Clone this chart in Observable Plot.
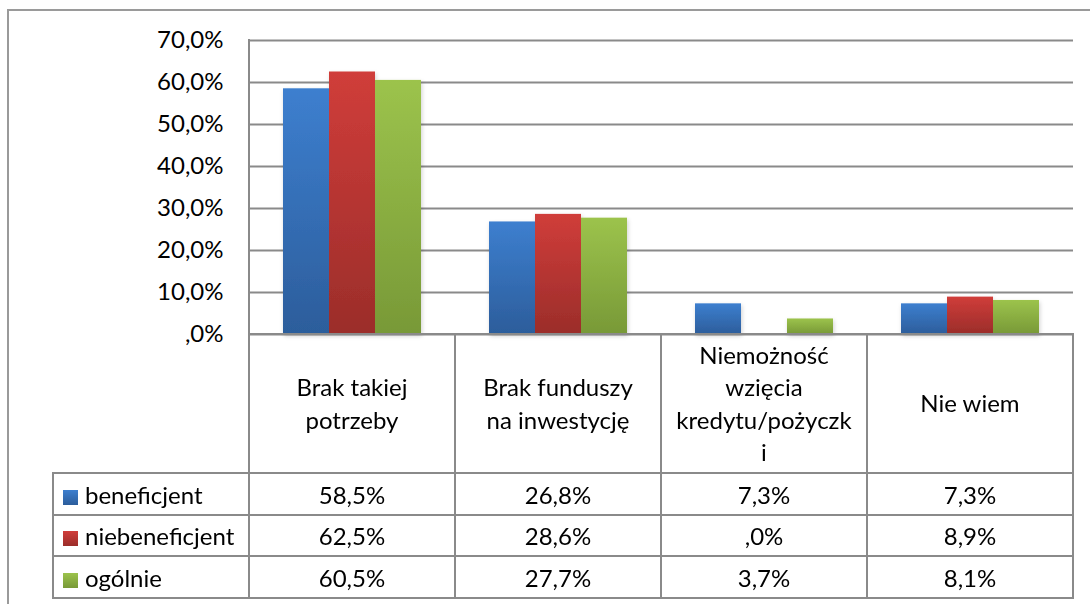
<!DOCTYPE html>
<html>
<head>
<meta charset="utf-8">
<script src="https://cdn.jsdelivr.net/npm/d3@7"></script>
<script src="https://cdn.jsdelivr.net/npm/@observablehq/plot@0.6"></script>
<style>
  html, body { margin: 0; padding: 0; background: #fff; }
  #wrap { position: relative; width: 1090px; height: 604px; overflow: hidden; font-family: Lato, "Open Sans", sans-serif; }
  #outer { position: absolute; left: 7px; top: 9px; width: 1100px; height: 700px; border-left: 2px solid #9a9a9a; border-top: 2px solid #9a9a9a; box-sizing: border-box; }
  #chart { position: absolute; left: 0; top: 0; }
  table.dt { position: absolute; border-collapse: collapse; table-layout: fixed; font-family: Lato, "Open Sans", sans-serif; font-size: 24px; color: #000; }
  table.dt td { border: 2px solid #8a8a8a; padding: 0; text-align: center; vertical-align: middle; }
  table.dt td.blank { border-top: none; border-left: none; }
  table.dt td.hdr { line-height: 32.5px; white-space: pre-line; }
  table.dt td.leg { text-align: left; padding-left: 9px; white-space: nowrap; }
  .key { display: inline-block; width: 15px; height: 15px; margin-right: 7px; vertical-align: -1px; }
</style>
</head>
<body>
<div id="wrap"><div id="outer"></div></div>
<script>
// ---- data ----
const categories = ["Brak takiej potrzeby", "Brak funduszy na inwestycję", "Niemożność wzięcia kredytu/pożyczki", "Nie wiem"];
const categoryLabels = ["Brak takiej\npotrzeby", "Brak funduszy\nna inwestycję", "Niemożność\nwzięcia\nkredytu/pożyczk\ni", "Nie wiem"];
const series = ["beneficjent", "niebeneficjent", "ogólnie"];
const beneficjent = [58.5, 26.8, 7.3, 7.3];
const niebeneficjent = [62.5, 28.6, 0.0, 8.9];
const ogolnie = [60.5, 27.7, 3.7, 8.1];
const yTicks = [0, 10, 20, 30, 40, 50, 60, 70];

// ---- styles ----
const gradients = [
  {id: "gBlue", top: "#3d7fcf", bottom: "#2c5d9b"},
  {id: "gRed", top: "#d03d3a", bottom: "#9b2d2a"},
  {id: "gGreen", top: "#9cc34c", bottom: "#789937"}
];
const keyColors = ["linear-gradient(#3d7fcf,#2c5d9b)", "linear-gradient(#d03d3a,#9b2d2a)", "linear-gradient(#9cc34c,#789937)"];

const fmt = v => (v === 0 ? ",0" : v.toFixed(1).replace(".", ",")) + "%";
const seriesValues = [beneficjent, niebeneficjent, ogolnie];
const data = categories.flatMap((c, i) => series.map((s, j) => ({category: c, series: s, value: seriesValues[j][i]})));

const plot = Plot.plot({
  width: 1090,
  height: 604,
  marginTop: 40,
  marginBottom: 270,
  marginLeft: 247,
  marginRight: 16,
  style: {fontFamily: "Lato, 'Open Sans', sans-serif", fontSize: "24px", color: "#000", background: "transparent"},
  fx: {domain: categories, padding: 0, axis: null},
  x: {domain: series, axis: null, paddingInner: 0, paddingOuter: 0.73},
  y: {domain: [0, 70], label: null},
  color: {domain: series, range: gradients.map(g => `url(#${g.id})`)},
  marks: [
    Plot.gridY(yTicks, {stroke: "#8a8a8a", strokeOpacity: 1, strokeWidth: 2}),
    Plot.barY(data, {fx: "category", x: "series", y: "value", fill: "series", inset: 0}),
    Plot.axisY(yTicks, {tickFormat: fmt, tickSize: 0, tickPadding: 26, fontSize: 24, label: null})
  ]
});
plot.id = "chart";
const defs = d3.select(plot).insert("defs", ":first-child");
gradients.forEach(g => {
  const lg = defs.append("linearGradient").attr("id", g.id).attr("x1", 0).attr("y1", 0).attr("x2", 0).attr("y2", 1);
  lg.append("stop").attr("offset", "0%").attr("stop-color", g.top);
  lg.append("stop").attr("offset", "100%").attr("stop-color", g.bottom);
});
const shadow = defs.append("filter").attr("id", "shadow").attr("x", "-10%").attr("y", "-10%").attr("width", "130%").attr("height", "130%");
shadow.append("feDropShadow").attr("dx", 1).attr("dy", 2).attr("stdDeviation", 2).attr("flood-color", "#000").attr("flood-opacity", 0.18);
d3.select(plot).selectAll("g[aria-label='bar']").attr("filter", "url(#shadow)");

const wrap = document.getElementById("wrap");
wrap.appendChild(plot);

// ---- data table, columns aligned with the fx scale ----
const fx = plot.scale("fx");
const yS = plot.scale("y");
const bw = fx.step;
const colX = categories.map(c => fx.apply(c));
const tableLeft = 53;
const plotLeft = colX[0];
const table = document.createElement("table");
table.className = "dt";
table.style.left = (tableLeft - 1) + "px";
table.style.top = (yS.apply(0) - 1) + "px";
table.style.width = (plotLeft - tableLeft + bw * categories.length + 2) + "px";
const cg = document.createElement("colgroup");
[plotLeft - tableLeft, ...categories.map(() => bw)].forEach(w => {
  const col = document.createElement("col");
  col.style.width = w + "px";
  cg.appendChild(col);
});
table.appendChild(cg);
const hr = document.createElement("tr");
hr.style.height = "139px";
const blank = document.createElement("td");
blank.className = "blank";
hr.appendChild(blank);
categoryLabels.forEach(l => {
  const td = document.createElement("td");
  td.className = "hdr";
  td.textContent = l;
  hr.appendChild(td);
});
table.appendChild(hr);
series.forEach((s, j) => {
  const tr = document.createElement("tr");
  tr.style.height = (j === 1 ? 41 : 42) + "px";
  const lt = document.createElement("td");
  lt.className = "leg";
  const key = document.createElement("span");
  key.className = "key";
  key.style.background = keyColors[j];
  lt.appendChild(key);
  lt.appendChild(document.createTextNode(s));
  tr.appendChild(lt);
  seriesValues[j].forEach(v => {
    const td = document.createElement("td");
    td.textContent = fmt(v);
    tr.appendChild(td);
  });
  table.appendChild(tr);
});
wrap.appendChild(table);
// left axis line of plot area
const axisLine = document.createElement("div");
axisLine.style.cssText = `position:absolute;left:${plotLeft - 1}px;top:${yS.apply(70) - 1}px;width:2px;height:${yS.apply(0) - yS.apply(70)}px;background:#8a8a8a;`;
wrap.appendChild(axisLine);
</script>
</body>
</html>
